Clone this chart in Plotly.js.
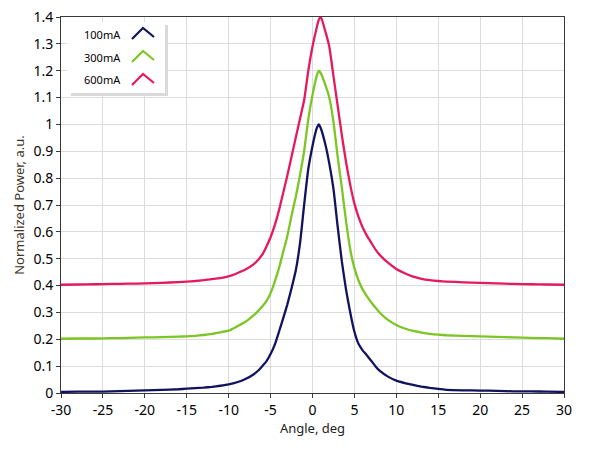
<!DOCTYPE html>
<html>
<head>
<meta charset="utf-8">
<script src="https://cdn.plot.ly/plotly-3.0.1.min.js"></script>
<style>html,body{margin:0;padding:0;background:#fff;}#chart{width:589px;height:456px;}</style>
</head>
<body>
<div id="chart"></div>
<script>
const seriesNames = ['100mA', '300mA', '600mA'];
const seriesColors = ['#12125e', '#7cc623', '#e6195e'];

const angles = [-30, -28, -26, -24, -22, -20, -18, -16, -15, -14, -13, -12, -11, -10, -9, -8, -7, -6.5, -6, -5.5, -5, -4.5, -4, -3.5, -3, -2.5, -2, -1.5, -1, -0.5, 0, 0.5, 0.75, 1, 1.5, 2, 2.5, 3, 3.5, 4, 4.5, 5, 5.5, 6, 6.5, 7, 7.5, 8, 9, 10, 11, 12, 13, 14, 15, 16, 18, 20, 22, 24, 26, 28, 30];

const power100 = [0.004, 0.005, 0.005, 0.006, 0.008, 0.010, 0.012, 0.014, 0.016, 0.018, 0.020, 0.023, 0.027, 0.032, 0.040, 0.052, 0.070, 0.083, 0.100, 0.118, 0.145, 0.180, 0.228, 0.278, 0.330, 0.390, 0.455, 0.555, 0.700, 0.835, 0.920, 0.985, 1.000, 0.985, 0.930, 0.855, 0.760, 0.620, 0.490, 0.385, 0.300, 0.228, 0.182, 0.158, 0.140, 0.120, 0.100, 0.083, 0.061, 0.046, 0.037, 0.030, 0.024, 0.019, 0.015, 0.012, 0.010, 0.009, 0.008, 0.006, 0.006, 0.005, 0.004];

const power300 = [0.202, 0.203, 0.203, 0.204, 0.205, 0.207, 0.208, 0.210, 0.211, 0.213, 0.216, 0.220, 0.226, 0.232, 0.248, 0.265, 0.290, 0.305, 0.322, 0.342, 0.372, 0.415, 0.465, 0.525, 0.585, 0.660, 0.730, 0.810, 0.900, 1.020, 1.110, 1.180, 1.200, 1.190, 1.150, 1.100, 1.010, 0.880, 0.765, 0.640, 0.535, 0.465, 0.418, 0.385, 0.360, 0.338, 0.318, 0.300, 0.272, 0.253, 0.240, 0.231, 0.225, 0.220, 0.217, 0.215, 0.213, 0.211, 0.209, 0.207, 0.205, 0.204, 0.202];

const power600 = [0.403, 0.404, 0.405, 0.406, 0.407, 0.408, 0.410, 0.413, 0.415, 0.417, 0.420, 0.424, 0.428, 0.434, 0.446, 0.460, 0.480, 0.495, 0.515, 0.545, 0.580, 0.625, 0.680, 0.745, 0.810, 0.880, 0.950, 1.020, 1.090, 1.200, 1.290, 1.360, 1.390, 1.400, 1.350, 1.290, 1.180, 1.070, 0.960, 0.860, 0.775, 0.705, 0.655, 0.615, 0.585, 0.560, 0.535, 0.515, 0.485, 0.462, 0.446, 0.433, 0.425, 0.420, 0.417, 0.415, 0.412, 0.410, 0.408, 0.406, 0.405, 0.404, 0.403];

const xTicks = [-30, -25, -20, -15, -10, -5, 0, 5, 10, 15, 20, 25, 30];
const yTicks = [0, 0.1, 0.2, 0.3, 0.4, 0.5, 0.6, 0.7, 0.8, 0.9, 1, 1.1, 1.2, 1.3, 1.4];
const yTickText = ['0', '0.1', '0.2', '0.3', '0.4', '0.5', '0.6', '0.7', '0.8', '0.9', '1', '1.1', '1.2', '1.3', '1.4'];

const allSeries = [power100, power300, power600];

const W = 589, H = 456;
const M = {l: 61, r: 25, t: 17, b: 63};
const pw = W - M.l - M.r, ph = H - M.t - M.b;
const px = v => (v - M.l) / pw;
const py = v => (H - M.b - v) / ph;

const FONT = 'Noto Sans, Open Sans, sans-serif';

const traces = allSeries.map((ys, i) => ({
  x: angles, y: ys, type: 'scatter', mode: 'lines', name: seriesNames[i],
  line: {color: seriesColors[i], width: 2.3, shape: 'spline', smoothing: 0.5},
  showlegend: false, hoverinfo: 'skip'
}));

const shapes = [
  {type: 'rect', xref: 'paper', yref: 'paper', x0: px(71), x1: px(168), y0: py(96), y1: py(25),
   fillcolor: '#d9d9d9', line: {width: 0}, layer: 'above'},
  {type: 'rect', xref: 'paper', yref: 'paper', x0: px(67), x1: px(165), y0: py(93), y1: py(22),
   fillcolor: '#ffffff', line: {width: 0}, layer: 'above'}
];
const annotations = [];
seriesNames.forEach((name, i) => {
  const cy = 34 + i * 23;
  annotations.push({
    xref: 'paper', yref: 'paper', x: px(82), y: py(cy), xanchor: 'left', yanchor: 'middle',
    text: name, showarrow: false, font: {family: FONT, size: 11, color: '#000'}
  });
  shapes.push({
    type: 'path', xref: 'paper', yref: 'paper', layer: 'above',
    path: `M ${px(132)} ${py(cy + 5)} L ${px(143)} ${py(cy - 6)} L ${px(154)} ${py(cy + 3)}`,
    line: {color: seriesColors[i], width: 2.2}
  });
});

const axisCommon = {
  showline: true, linecolor: '#3a3a3a', linewidth: 1, mirror: true,
  ticks: 'outside', ticklen: 4, tickcolor: '#3a3a3a', tickwidth: 1,
  showgrid: true, gridcolor: '#dcdcdc', gridwidth: 1, zeroline: false,
  tickfont: {family: FONT, size: 14, color: '#000'}
};

const layout = {
  width: W, height: H, margin: M,
  paper_bgcolor: '#fff', plot_bgcolor: '#fff',
  showlegend: false,
  xaxis: Object.assign({}, axisCommon, {
    range: [-30, 30], tickvals: xTicks, ticktext: xTicks.map(String),
    title: {text: 'Angle, deg', font: {family: FONT, size: 13, color: '#222'}, standoff: 6}
  }),
  yaxis: Object.assign({}, axisCommon, {
    range: [0, 1.4], tickvals: yTicks, ticktext: yTickText,
    title: {text: 'Normalized Power, a.u.', font: {family: FONT, size: 13, color: '#3d3526'}, standoff: 5}
  }),
  shapes: shapes, annotations: annotations
};

Plotly.newPlot('chart', traces, layout, {staticPlot: true, displayModeBar: false});
</script>
</body>
</html>
